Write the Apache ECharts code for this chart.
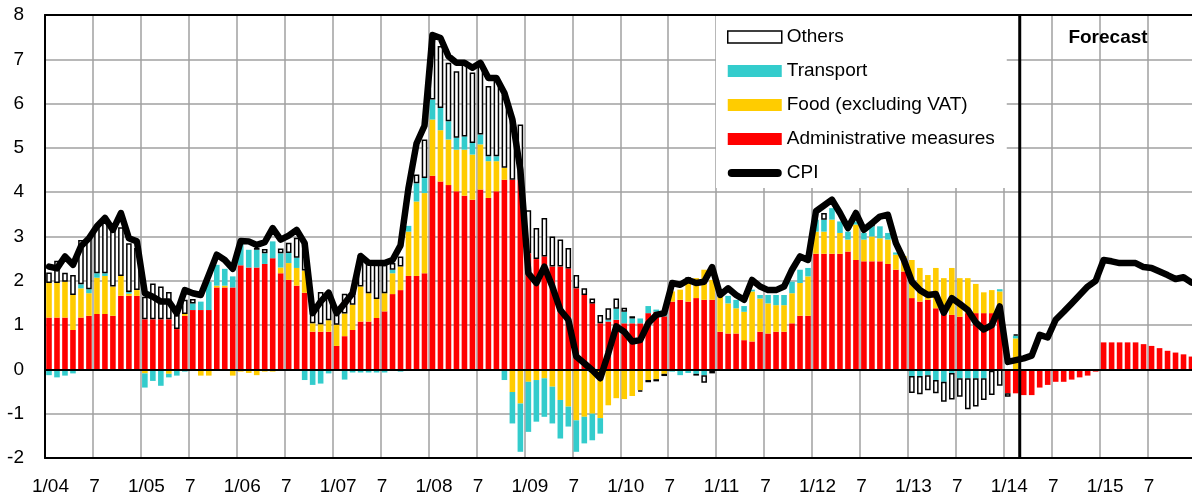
<!DOCTYPE html>
<html><head><meta charset="utf-8">
<script src="https://cdn.jsdelivr.net/npm/echarts/dist/echarts.min.js"></script>
<style>html,body{margin:0;padding:0;background:#fff}#c{width:1192px;height:500px}</style>
</head><body><div id="c"></div>
<script>
const FONT = "'Liberation Sans', Arial, sans-serif";
const years = [2004,2005,2006,2007,2008,2009,2010,2011,2012,2013,2014,2015];
const categories = [];
years.forEach(y => { for (let m = 1; m <= 12; m++) categories.push(m + '/' + String(y).slice(2)); });
const tickLabels = ['1/04','7','1/05','7','1/06','7','1/07','7','1/08','7','1/09','7',
                    '1/10','7','1/11','7','1/12','7','1/13','7','1/14','7','1/15','7'];
const forecastStartLabel = '3/14';

const admin = [
 1.17,1.17,1.17,0.89,1.17,1.21,1.25,1.25,1.21,1.66,1.66,1.66,
 1.13,1.13,1.13,1.13,0.91,1.21,1.34,1.34,1.34,1.85,1.85,1.85,
 2.35,2.30,2.30,2.38,2.51,2.17,2.02,1.89,1.73,0.85,0.85,0.85,
 0.53,0.75,0.89,1.08,1.08,1.16,1.31,1.70,1.79,2.11,2.11,2.17,
 4.37,4.24,4.16,4.02,3.92,3.83,4.06,3.87,4.02,4.28,4.28,4.28,
 2.62,2.49,2.55,2.32,2.32,2.28,1.83,1.68,1.49,1.04,1.08,1.12,
 1.04,1.04,1.04,1.27,1.30,1.20,1.53,1.57,1.53,1.61,1.57,1.57,
 0.85,0.81,0.81,0.66,0.63,0.85,0.81,0.85,0.85,1.04,1.21,1.21,
 2.61,2.61,2.61,2.61,2.66,2.47,2.44,2.44,2.44,2.38,2.25,2.21,
 1.61,1.53,1.57,1.38,1.30,1.23,1.19,1.27,1.27,1.27,1.27,1.27,
 -0.54,-0.54,-0.58,-0.58,-0.41,-0.35,-0.28,-0.28,-0.23,-0.18,-0.14,-0.05,
 0.61,0.61,0.61,0.61,0.61,0.57,0.53,0.48,0.42,0.38,0.34,0.29];

const food = [
 0.78,0.78,0.81,0.79,0.66,0.51,0.82,0.86,0.66,0.45,0.05,0.13,
 -0.09,0,0,-0.10,0,0.04,0,-0.14,-0.14,0.04,0.04,-0.14,
 -0.05,-0.08,-0.13,-0.05,-0.05,0.13,0.38,0.40,0.50,0.19,0.17,0.26,
 0.48,0.51,0.57,0.79,0.64,0.43,0.41,0.47,0.53,1.00,1.68,1.81,
 1.27,1.16,1.03,0.94,1.04,1.02,1.02,0.83,0.68,0.27,-0.51,-0.77,
 -0.28,-0.24,-0.20,-0.39,-0.69,-0.84,-1.15,-1.07,-1.00,-1.10,-0.81,-0.65,
 -0.67,-0.60,-0.47,-0.24,-0.22,-0.10,0.23,0.23,0.49,0.45,0.68,0.45,
 0.79,0.68,0.57,0.64,1.13,0.75,0.68,0.60,0.60,0.68,0.74,0.89,
 0.50,0.50,0.77,0.47,0.27,0.80,0.49,0.56,0.52,0.55,0.34,0.35,
 0.86,0.76,0.56,0.91,0.76,1.06,0.87,0.79,0.66,0.47,0.52,0.49,
 0,0.70];

const transport = [
 -0.13,-0.18,-0.14,-0.09,0.09,0.09,0.10,0.06,0,0,0.04,0,
 -0.32,-0.26,-0.37,-0.08,-0.14,-0.05,0.15,0.19,0.64,0.47,0.38,0.25,
 0.50,0.40,0.40,0.24,0.38,0.32,0.23,0.23,-0.24,-0.35,-0.32,-0.09,
 0,-0.23,-0.07,-0.07,-0.07,-0.07,-0.07,0.08,-0.05,0.13,0.41,0.34,
 0.45,0.50,0.41,0.27,0.30,0.26,0.22,0.11,0.11,-0.24,-0.71,-1.09,
 -1.13,-0.94,-0.87,-0.83,-0.87,-0.45,-0.71,-0.60,-0.60,-0.35,0.04,0.25,
 0.26,0.11,0.11,0.16,0.05,0.05,-0.05,-0.13,-0.08,-0.10,-0.13,-0.03,
 0.11,0.17,0.19,0.13,0.04,0.08,0.19,0.23,0.23,0.26,0.30,0.19,
 0.27,0.27,0.26,0.26,0.18,0.07,0.15,0.23,0.27,0.15,0.05,0,
 -0.15,-0.15,-0.13,-0.24,-0.28,-0.08,-0.20,-0.20,-0.20,-0.20,-0.03,0.05,
 0,0.06];

const others = [
 0.24,0.50,0.20,0.45,1.00,1.15,1.03,1.17,1.30,1.10,1.10,0.95,
 0.51,0.81,0.74,0.62,0.32,0.32,0.10,0,0,0,0,0,
 0,0,0.04,0.10,0,0.11,0.23,0.45,0.60,0.23,0.73,0.64,
 0.23,0.45,0.26,0.72,0.68,0.81,0.64,0.15,0.23,0,0.20,0.87,
 1.47,1.40,1.32,1.50,1.66,1.59,1.62,1.59,1.74,1.65,1.36,1.25,
 0.97,0.70,0.87,0.68,0.61,0.46,0.30,0.15,0.11,0.19,0.26,0.23,
 0.09,0.05,-0.03,-0.05,-0.05,-0.05,0,0,0.06,-0.04,-0.17,-0.06,
 0,0,0,0,0,0,0,0,0,0,0,0,
 0,0.15,0,0,0,0,0,0.08,0,0,0,0,
 -0.38,-0.41,-0.34,-0.30,-0.45,-0.60,-0.42,-0.70,-0.64,-0.49,-0.55,-0.37,
 -0.08,0.03];

const cpi = [
 2.32,2.28,2.55,2.36,2.78,2.96,3.23,3.42,3.15,3.53,2.96,2.89,
 1.72,1.64,1.53,1.53,1.27,1.79,1.72,1.68,2.13,2.59,2.47,2.27,
 2.90,2.89,2.81,2.87,3.19,2.93,3.02,3.15,2.85,1.27,1.53,1.73,
 1.27,1.49,1.72,2.56,2.41,2.40,2.40,2.47,2.80,4.10,5.10,5.50,
 7.55,7.48,7.07,6.92,6.92,6.81,6.92,6.58,6.58,6.24,5.64,4.50,
 2.17,1.95,2.32,1.87,1.34,1.12,0.29,0.14,-0.02,-0.20,0.36,0.97,
 0.85,0.63,0.66,1.04,1.23,1.27,1.95,1.91,2.02,1.95,1.98,2.31,
 1.68,1.83,1.68,1.57,2.02,1.87,1.79,1.79,1.87,2.25,2.55,2.47,
 3.57,3.70,3.83,3.53,3.19,3.53,3.15,3.30,3.45,3.49,2.85,2.47,
 1.98,1.79,1.68,1.70,1.28,1.61,1.48,1.34,1.06,0.90,1.00,1.42,
 0.17,0.21,0.25,0.31,0.78,0.72,1.12,1.30,1.49,1.68,1.87,2.00,
 2.47,2.44,2.40,2.40,2.40,2.31,2.29,2.21,2.13,2.04,2.08,1.96];

const toBars = arr => categories.map((c, i) => (arr[i] === undefined || arr[i] === 0) ? '-' : arr[i]);
const forecastIdx = categories.indexOf(forecastStartLabel);

const chart = echarts.init(document.getElementById('c'), null, {renderer: 'canvas'});
const barW = 5.6;
const gridColor = '#a0a0a0';
chart.setOption({
  animation: false,
  textStyle: {fontFamily: FONT},
  grid: {left: 45, top: 15, width: 1150.5, height: 443, containLabel: false, outerBoundsMode: 'none'},
  xAxis: [
    {type: 'category', data: categories, position: 'top', boundaryGap: true,
     axisLine: {show: true, onZero: true, lineStyle: {color: '#000', width: 2}},
     axisTick: {show: false}, axisLabel: {show: false}, splitLine: {show: false}, z: 5},
    {type: 'value', min: 0, max: categories.length, interval: 6, position: 'bottom',
     axisLine: {show: true, onZero: false, lineStyle: {color: '#000', width: 2}},
     axisTick: {show: false},
     axisLabel: {show: true, color: '#000', fontSize: 19, fontFamily: FONT, margin: 19,
       formatter: v => {
         const t = tickLabels[v / 6];
         if (t === undefined) return '';
         return t.indexOf('/') >= 0 ? '{y|' + t + '}' : '{m|' + t + '}';
       },
       rich: {
         y: {fontSize: 19, fontFamily: FONT, color: '#000', padding: [0, 0, 0, 11]},
         m: {fontSize: 19, fontFamily: FONT, color: '#000', padding: [0, 0, 0, 3]}
       }},
     splitLine: {show: true, showMinLine: false, showMaxLine: false, lineStyle: {color: gridColor, width: 1.5}}},
    {type: 'value', min: 0, max: categories.length, position: 'top',
     axisLine: {show: true, onZero: false, lineStyle: {color: '#000', width: 2}},
     axisTick: {show: false}, axisLabel: {show: false}, splitLine: {show: false}}
  ],
  yAxis: {type: 'value', min: -2, max: 8, interval: 1,
    axisLine: {show: true, lineStyle: {color: '#000', width: 2}},
    axisTick: {show: false},
    axisLabel: {color: '#000', fontSize: 19, fontFamily: FONT, margin: 21},
    splitLine: {show: true, showMinLine: false, showMaxLine: false, lineStyle: {color: gridColor, width: 1.5}}},
  legend: {
    orient: 'vertical', left: 716, top: 16, padding: [11, 12, 5, 11],
    backgroundColor: '#fff', itemWidth: 54, itemHeight: 12, itemGap: 14, selectedMode: false,
    textStyle: {fontFamily: FONT, fontSize: 19, color: '#000', lineHeight: 20},
    data: [
      {name: 'Others', icon: 'rect', itemStyle: {color: '#fff', borderColor: '#000', borderWidth: 1.5}},
      {name: 'Transport', icon: 'rect'},
      {name: 'Food (excluding VAT)', icon: 'rect'},
      {name: 'Administrative measures', icon: 'rect'},
      {name: 'CPI', icon: 'path://M0,-2M54,10M4,0L50,0A4,4,0,0,1,50,8L4,8A4,4,0,0,1,4,0Z',
       itemStyle: {color: '#000', borderWidth: 0}}
    ]
  },
  graphic: [{type: 'text', z: 10, style: {text: 'Forecast', x: 1108, y: 38, align: 'center', verticalAlign: 'middle',
    font: "bold 19px 'Liberation Sans', Arial, sans-serif", fill: '#000'}}],
  series: [
    {name: 'Administrative measures', type: 'bar', stack: 'c', barWidth: barW, data: toBars(admin),
     itemStyle: {color: '#ff0000'}},
    {name: 'Food (excluding VAT)', type: 'bar', stack: 'c', barWidth: barW, data: toBars(food),
     itemStyle: {color: '#ffcc00'}},
    {name: 'Transport', type: 'bar', stack: 'c', barWidth: barW, data: toBars(transport),
     itemStyle: {color: '#33cccc'}},
    {name: 'Others', type: 'bar', stack: 'c', barWidth: barW, data: toBars(others),
     itemStyle: {color: '#ffffff', borderColor: '#000', borderWidth: 1.5}},
    {name: 'CPI', type: 'line', data: cpi, symbol: 'none', z: 6,
     lineStyle: {color: '#000', width: 6.5, join: 'round', cap: 'round'}, itemStyle: {color: '#000'}},
    {name: 'forecast-divider', type: 'line', xAxisIndex: 1, symbol: 'none', z: 7,
     data: [[forecastIdx, -2], [forecastIdx, 8]], lineStyle: {color: '#000', width: 3}}
  ]
});
</script></body></html>
